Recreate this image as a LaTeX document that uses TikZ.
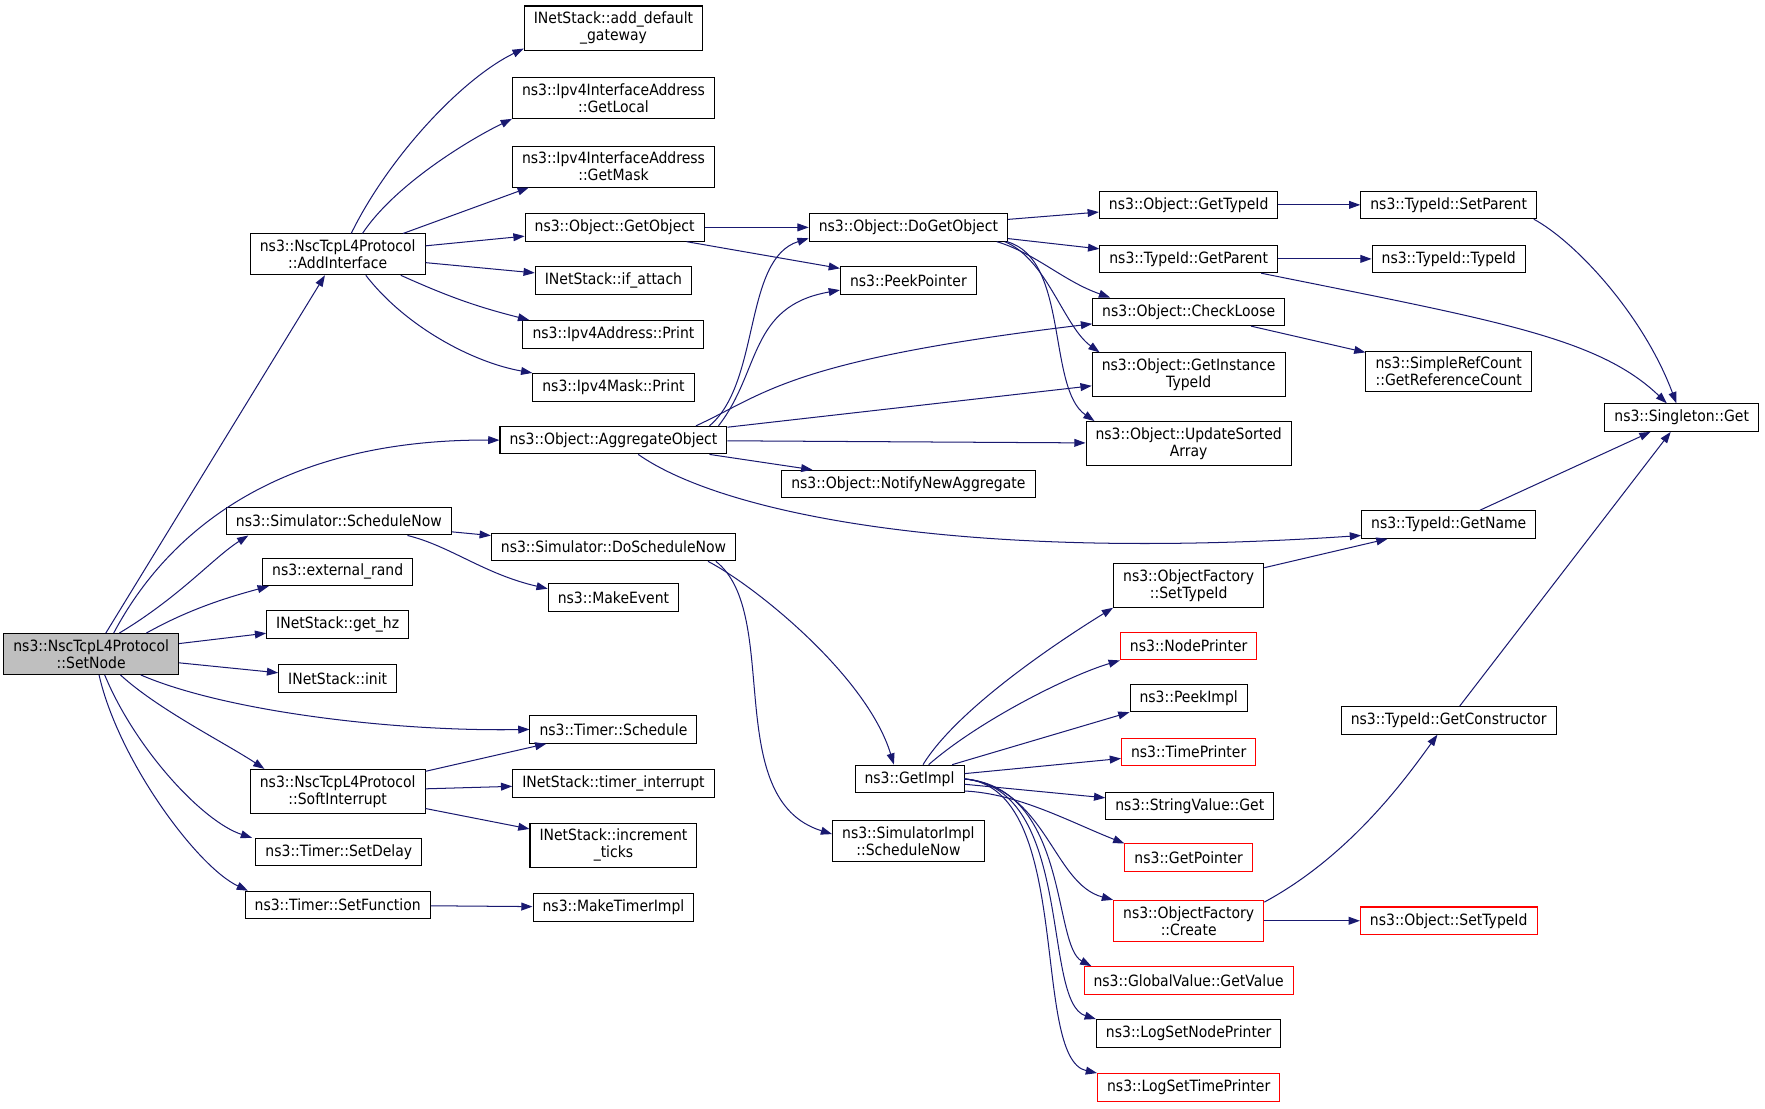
\documentclass[tikz,border=0pt]{standalone}
\usepackage{fontspec}
\setmainfont{DejaVu Sans}[FakeStretch=0.9]
\usetikzlibrary{arrows.meta,positioning}
\definecolor{edgeblue}{HTML}{191970}
\definecolor{boxgray}{HTML}{BFBFBF}

\begin{document}
\begin{tikzpicture}[x=1pt,y=-1pt,
  fn/.style={draw=black,line width=0.9pt,fill=white,align=center,inner xsep=8.5pt,inner ysep=5.3pt,
    minimum height=24.5pt,font=\fontsize{13.8}{15}\selectfont},
  ext/.style={fn,draw=red},
  call/.style={draw=edgeblue,line width=0.9pt,-{Triangle[length=10pt,width=7pt]}}]
\useasboundingbox (0,0) rectangle (1568,985);

% root
\node[fn,fill=boxgray] (setnode) at (81,581) {ns3::NscTcpL4Protocol\\::SetNode};

% second column
\node[fn] (addif) at (300,226) {ns3::NscTcpL4Protocol\\::AddInterface};
\node[fn] (simsched) at (301,463) {ns3::Simulator::ScheduleNow};
\node[fn] (extrand) at (300,508) {ns3::external\_rand};
\node[fn] (gethz) at (300,555) {INetStack::get\_hz};
\node[fn] (init) at (300,603) {INetStack::init};
\node[fn] (softint) at (300,703) {ns3::NscTcpL4Protocol\\::SoftInterrupt};
\node[fn] (setdelay) at (301,757) {ns3::Timer::SetDelay};
\node[fn] (setfunc) at (300,804) {ns3::Timer::SetFunction};

% third column
\node[fn] (adddef) at (545,25) {INetStack::add\_default\\\_gateway};
\node[fn] (getlocal) at (545,87) {ns3::Ipv4InterfaceAddress\\::GetLocal};
\node[fn] (getmask) at (545,148) {ns3::Ipv4InterfaceAddress\\::GetMask};
\node[fn] (getobj) at (546,202) {ns3::Object::GetObject};
\node[fn] (ifattach) at (545,249) {INetStack::if\_attach};
\node[fn] (addrprint) at (545,297) {ns3::Ipv4Address::Print};
\node[fn] (maskprint) at (545,344) {ns3::Ipv4Mask::Print};
\node[fn] (aggr) at (545,391) {ns3::Object::AggregateObject};
\node[fn] (dosched) at (545,486) {ns3::Simulator::DoScheduleNow};
\node[fn] (mkevent) at (545,531) {ns3::MakeEvent};
\node[fn] (tsched) at (545,648) {ns3::Timer::Schedule};
\node[fn] (tint) at (545,696) {INetStack::timer\_interrupt};
\node[fn] (ticks) at (545,751) {INetStack::increment\\\_ticks};
\node[fn] (mktimer) at (545,806) {ns3::MakeTimerImpl};

% fourth column
\node[fn] (dogetobj) at (807,202) {ns3::Object::DoGetObject};
\node[fn] (peekptr) at (807,249) {ns3::PeekPointer};
\node[fn] (notify) at (807,430) {ns3::Object::NotifyNewAggregate};
\node[fn] (getimpl) at (808,692) {ns3::GetImpl};
\node[fn] (implsched) at (807,747) {ns3::SimulatorImpl\\::ScheduleNow};

% fifth column
\node[fn] (gettid) at (1056,182) {ns3::Object::GetTypeId};
\node[fn] (getparent) at (1056,230) {ns3::TypeId::GetParent};
\node[fn] (checkloose) at (1056,277) {ns3::Object::CheckLoose};
\node[fn] (instid) at (1056,333) {ns3::Object::GetInstance\\TypeId};
\node[fn] (sorted) at (1056,394) {ns3::Object::UpdateSorted\\Array};
\node[fn] (ofsettid) at (1056,520) {ns3::ObjectFactory\\::SetTypeId};
\node[ext] (nodeprn) at (1056,574) {ns3::NodePrinter};
\node[fn] (peekimpl) at (1056,620) {ns3::PeekImpl};
\node[ext] (timeprn) at (1056,668) {ns3::TimePrinter};
\node[fn] (strget) at (1057,716) {ns3::StringValue::Get};
\node[ext] (getptr) at (1056,762) {ns3::GetPointer};
\node[ext] (ofcreate) at (1056,818) {ns3::ObjectFactory\\::Create};
\node[ext] (globval) at (1056,871) {ns3::GlobalValue::GetValue};
\node[fn] (lognode) at (1056,918) {ns3::LogSetNodePrinter};
\node[ext] (logtime) at (1056,966) {ns3::LogSetTimePrinter};

% sixth column
\node[fn] (setparent) at (1287,182) {ns3::TypeId::SetParent};
\node[fn] (tidtid) at (1287,230) {ns3::TypeId::TypeId};
\node[fn] (refcount) at (1287,330) {ns3::SimpleRefCount\\::GetReferenceCount};
\node[fn] (getname) at (1287,466) {ns3::TypeId::GetName};
\node[fn] (getctor) at (1287,640) {ns3::TypeId::GetConstructor};
\node[ext] (objsettid) at (1287,818) {ns3::Object::SetTypeId};

\node[fn] (singleton) at (1494,371) {ns3::Singleton::Get};

% calls from SetNode
\draw[call] ([xshift=13pt]setnode.north) -- (addif);
\draw[call] ([xshift=20pt]setnode.north) .. controls (150,470) and (250,390) .. (aggr.west);
\draw[call] ([xshift=25pt]setnode.north) .. controls (160,530) and (190,495) .. ([xshift=20pt]simsched.south west);
\draw[call] ([xshift=49pt]setnode.north) .. controls (170,540) and (205,530) .. ([xshift=6pt]extrand.south west);
\draw[call] (setnode) -- (gethz);
\draw[call] (setnode) -- (init);
\draw[call] ([xshift=44pt]setnode.south) .. controls (200,632) and (350,650) .. (tsched.west);
\draw[call] ([xshift=26pt]setnode.south) .. controls (140,630) and (200,660) .. ([xshift=13pt]softint.north west);
\draw[call] ([xshift=12pt]setnode.south) .. controls (120,665) and (180,730) .. ([xshift=-3pt]setdelay.north west);
\draw[call] ([xshift=7pt]setnode.south) .. controls (105,675) and (175,770) .. ([xshift=3pt]setfunc.north west);

% calls from AddInterface
\draw[call] ([xshift=12pt]addif.north) .. controls (345,140) and (410,70) .. ([yshift=2pt]adddef.south west);
\draw[call] ([xshift=22pt]addif.north) .. controls (350,165) and (415,125) .. (getlocal.south west);
\draw[call] ([xshift=-20pt]addif.north east) -- ([xshift=15pt]getmask.south west);
\draw[call] (addif) -- (getobj);
\draw[call] (addif) -- (ifattach);
\draw[call] ([xshift=-22pt]addif.south east) to[bend right=5] ([xshift=6pt]addrprint.north west);
\draw[call] ([xshift=25pt]addif.south) .. controls (360,290) and (420,322) .. (maskprint.north west);

\draw[call] (getobj) -- (dogetobj);
\draw[call] ([xshift=-16pt]getobj.south east) -- (peekptr);

% calls from AggregateObject
\draw[call] ([xshift=-16pt]aggr.north east) .. controls (676,340) and (660,230) .. ([yshift=3pt]dogetobj.south west);
\draw[call] ([xshift=-8pt]aggr.north east) .. controls (676,330) and (665,272) .. ([yshift=4pt]peekptr.south west);
\draw[call] ([xshift=-28pt]aggr.north east) .. controls (680,350) and (700,320) .. ([yshift=2pt]checkloose.south west);
\draw[call] (aggr) -- (instid);
\draw[call] (aggr) -- (sorted);
\draw[call] (aggr) -- (notify);
\draw[call] ([xshift=22pt]aggr.south) .. controls (640,455) and (850,500) .. ([yshift=3pt]getname.south west);

\draw[call] (simsched) -- (dosched);
\draw[call] ([xshift=61pt]simsched.south) .. controls (400,485) and (430,510) .. ([yshift=8pt]mkevent.west);
\draw[call] ([xshift=-25pt]dosched.south east) .. controls (670,520) and (770,600) .. ([xshift=35pt]getimpl.north west);
\draw[call] ([xshift=-18pt]dosched.south east) .. controls (695,545) and (640,710) .. ([yshift=6pt]implsched.west);

\draw[call] (softint) -- ([xshift=15pt]tsched.south west);
\draw[call] (softint) -- (tint);
\draw[call] (softint) -- (ticks);
\draw[call] (setfunc) -- (mktimer);

% calls from DoGetObject
\draw[call] (dogetobj) -- (gettid);
\draw[call] (dogetobj) -- (getparent);
\draw[call] ([xshift=-10pt]dogetobj.south east) .. controls (920,225) and (945,250) .. ([xshift=16pt]checkloose.north west);
\draw[call] ([xshift=-3pt]dogetobj.south east) .. controls (930,230) and (945,290) .. ([xshift=7pt]instid.north west);
\draw[call] ([xshift=-1pt]dogetobj.south east) .. controls (950,230) and (930,345) .. ([xshift=8pt]sorted.north west);

\draw[call] (gettid) -- (setparent);
\draw[call] (getparent) -- (tidtid);
\draw[call] ([xshift=-15pt]getparent.south east) .. controls (1330,285) and (1420,300) .. (singleton);
\draw[call] ([xshift=-3pt]setparent.south east) .. controls (1400,215) and (1460,280) .. (singleton);
\draw[call] (checkloose) -- (refcount);
\draw[call] (getname) -- (singleton);
\draw[call] (getctor) -- (singleton);
\draw[call] (ofsettid) -- (getname);

% calls from GetImpl
\draw[call] ([xshift=12pt]getimpl.north) .. controls (850,630) and (940,570) .. (ofsettid.south west);
\draw[call] ([xshift=17pt]getimpl.north) .. controls (870,640) and (950,600) .. (nodeprn.south west);
\draw[call] ([xshift=-11pt]getimpl.north east) -- (peekimpl.south west);
\draw[call] (getimpl) -- (timeprn);
\draw[call] (getimpl) -- (strget);
\draw[call] ([yshift=2pt]getimpl.south east) .. controls (905,705) and (950,730) .. (getptr.north west);
\draw[call] (getimpl.east) .. controls (930,700) and (935,785) .. (ofcreate.north west);
\draw[call] (getimpl.east) .. controls (950,700) and (935,840) .. ([xshift=7pt]globval.north west);
\draw[call] (getimpl.east) .. controls (955,700) and (925,890) .. (lognode.north west);
\draw[call] (getimpl.east) .. controls (955,700) and (915,940) .. (logtime.north west);

\draw[call] ([yshift=-2pt]ofcreate.north east) .. controls (1200,760) and (1250,690) .. ([xshift=-10pt]getctor.south);
\draw[call] (ofcreate) -- (objsettid);

\end{tikzpicture}
\end{document}
